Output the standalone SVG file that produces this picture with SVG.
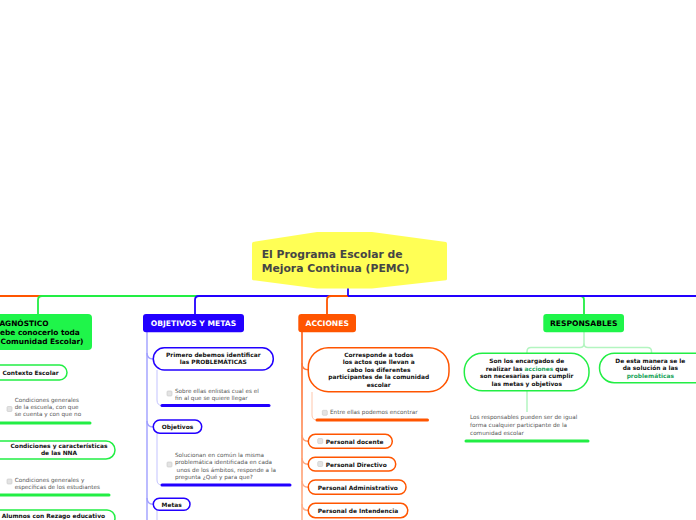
<svg xmlns="http://www.w3.org/2000/svg" width="696" height="520" viewBox="0 0 696 520">
<defs>
<style>
text{font-family:"DejaVu Sans",Verdana,"Liberation Sans",sans-serif}
.title{font-size:10.8px;font-weight:bold;fill:#454545}
.hd{font-size:7.6px;font-weight:bold;fill:#fff;text-anchor:middle}
.hdk{font-size:7.6px;font-weight:bold;fill:#000;text-anchor:middle}
.big{font-size:7.4px;font-weight:bold;fill:#000}
.nb{font-size:5.9px;font-weight:bold;fill:#111}
.c{text-anchor:middle}
.ds{font-size:5.7px;fill:#555}
.hl{fill:#19a45a}
.cb{fill:#e3e3e3;stroke:#c8c8c8;stroke-width:0.6}
.ln{fill:none;stroke-width:1.8}
.ul{fill:none;stroke-width:3;stroke-linecap:round}
.nG{fill:#fff;stroke:#22ee44;stroke-width:1.5}
.nB{fill:#fff;stroke:#2200ff;stroke-width:1.5}
.nO{fill:#fff;stroke:#ff5500;stroke-width:1.5}
</style>
<linearGradient id="og" gradientUnits="userSpaceOnUse" x1="0" y1="332" x2="0" y2="520">
<stop offset="0" stop-color="#ff5a10"/><stop offset="1" stop-color="#ffb896"/>
</linearGradient>
</defs>
<rect width="696" height="520" fill="#fff"/>

<g id="connectors">
<path class="ln" stroke="#ff5500" d="M348,296 H-2"/>
<path class="ln" stroke="#22ee44" d="M348,296 H580 Q584,296 584,300 V314"/>
<path class="ln" stroke="#22ee44" d="M348,296 H42 Q38,296 38,300 V314"/>
<path class="ln" stroke="#2200ff" d="M348,296 H199 Q195,296 195,300 V314"/>
<path class="ln" stroke="#2200ff" d="M348,296 H698"/>
<path class="ln" stroke="#ff5500" d="M348,296 H331 Q327,296 327,300 V314"/>
<path class="ln" stroke="#2200ff" d="M348,287 V296"/>

<g fill="none" stroke="#9f9fff" stroke-width="1.4">
<path d="M147,332 V521"/>
<path d="M147,353 Q147,359 153.3,359"/>
<path d="M147,421 Q147,427 153.3,427"/>
<path d="M147,498 Q147,504.2 153.3,504.2"/>
</g>
<g fill="none" stroke="#c3c3ff" stroke-width="1">
<path d="M157,370 V400 Q157,405.5 162,405.5"/>
<path d="M157,433.3 V480 Q157,485 162,485"/>
<path d="M157,510 V521"/>
</g>

<g fill="none" stroke="url(#og)" stroke-width="1.6">
<path d="M302,332 V521"/>
</g>
<g fill="none" stroke-width="1.4">
<path stroke="#ff7a3d" d="M302,363 Q302,369.7 308.3,369.7"/>
<path stroke="#ff9b6d" d="M302,435 Q302,441.3 308.3,441.3"/>
<path stroke="#ffa27a" d="M302,458 Q302,464.2 308.3,464.2"/>
<path stroke="#ffaa85" d="M302,481 Q302,487.2 308.3,487.2"/>
<path stroke="#ffb08d" d="M302,504 Q302,510.5 308.3,510.5"/>
<path stroke="#ffc6ab" stroke-width="1" d="M312,392 V415 Q312,420 317,420"/>
</g>

<g fill="none" stroke="#b3f5c0" stroke-width="1.5">
<path d="M584,332 V343.5 Q584,347.5 580,347.5 H531 Q527,347.5 527,351.5 V353.3"/>
<path d="M584,343.5 Q584,347.5 588,347.5 H647.5 Q651.5,347.5 651.5,351.5 V353.3"/>
<path d="M527,391 V412"/>
</g>

<path class="ul" stroke="#22ee44" d="M-2,423 H90"/>
<path class="ul" stroke="#22ee44" d="M-2,495 H109"/>
<path class="ul" stroke="#2200ff" d="M162,405.5 H269"/>
<path class="ul" stroke="#2200ff" d="M162,485 H290"/>
<path class="ul" stroke="#ff5500" d="M317,420 H427.5"/>
<path class="ul" stroke="#22ee44" d="M466,441 H588"/>
</g>

<g id="center">
<path d="M317,232 L372,232 L446,242 Q447,242.5 447,244 L447,279 Q447,280 446,280.2 L372,288.5 L317,288.5 L253,280.2 Q252,280 252,279 L252,244 Q252,242.5 253,242 Z" fill="#ffff55"/>
<text class="title" x="261.7" y="258.3">El Programa Escolar de</text>
<text class="title" x="261.7" y="271.7">Mejora Continua (PEMC)</text>
</g>

<g id="diagnostico">
<rect x="-20" y="314" width="112" height="36" rx="4" fill="#1ff54a"/>
<text class="big" x="-9.5" y="326">DIAGNÓSTICO</text>
<text class="big" x="-9.5" y="335">(Debe conocerlo toda</text>
<text class="big" x="-9.5" y="344">la Comunidad Escolar)</text>
</g>
<g id="contexto">
<rect class="nG" x="-20" y="365" width="87" height="15" rx="7.5"/>
<text class="nb" x="2.5" y="375">Contexto Escolar</text>
</g>
<g id="desc-contexto">
<rect class="cb" x="7" y="406.5" width="5" height="5" rx="1"/>
<text class="ds" x="14.7" y="401.7">Condiciones generales</text>
<text class="ds" x="14.7" y="409">de la escuela, con que</text>
<text class="ds" x="14.7" y="416.3">se cuenta y con que no</text>
</g>
<g id="condiciones">
<rect class="nG" x="-20" y="441" width="135" height="18" rx="9"/>
<text class="nb c" x="59" y="448">Condiciones y características</text>
<text class="nb c" x="59" y="455">de las NNA</text>
</g>
<g id="desc-condiciones">
<rect class="cb" x="7" y="479" width="5" height="5" rx="1"/>
<text class="ds" x="14.7" y="481.5">Condiciones generales y</text>
<text class="ds" x="14.7" y="489.3">específicas de los estudiantes</text>
</g>
<g id="alumnos">
<rect class="nG" x="-20" y="510" width="135" height="16" rx="8"/>
<text class="nb" x="1.7" y="518">Alumnos con Rezago educativo</text>
</g>

<g id="objetivos-metas">
<rect x="143" y="314" width="101" height="18.3" rx="3" fill="#2200ff"/>
<text class="hd" x="193.5" y="326">OBJETIVOS Y METAS</text>
</g>
<g id="primero">
<rect class="nB" x="153.3" y="347.7" width="120" height="22.3" rx="11"/>
<text class="nb c" x="213.3" y="356.6">Primero debemos identificar</text>
<text class="nb c" x="213.3" y="364.3">las PROBLEMÁTICAS</text>
</g>
<g id="desc-primero">
<rect class="cb" x="167" y="391" width="5" height="5" rx="1"/>
<text class="ds" x="175" y="392.7">Sobre ellas enlistas cual es el</text>
<text class="ds" x="175" y="400">fin al que se quiere llegar</text>
</g>
<g id="objetivos">
<rect class="nB" x="153.3" y="420" width="48.4" height="13.3" rx="6.6"/>
<text class="nb c" x="177.5" y="428.8">Objetivos</text>
</g>
<g id="desc-objetivos">
<rect class="cb" x="167" y="462" width="5" height="5" rx="1"/>
<text class="ds" x="175" y="456.5">Solucionan en común la misma</text>
<text class="ds" x="175" y="464">problemática identificada en cada</text>
<text class="ds" x="176.6" y="471.6">unos de los ámbitos, responde a la</text>
<text class="ds" x="175" y="479">pregunta ¿Qué y para que?</text>
</g>
<g id="metas">
<rect class="nB" x="153.3" y="498.3" width="36.7" height="12" rx="6"/>
<text class="nb c" x="171.7" y="506.8">Metas</text>
</g>

<g id="acciones">
<rect x="298.3" y="314" width="57.7" height="18.3" rx="3" fill="#ff5500"/>
<text class="hd" x="327.2" y="326">ACCIONES</text>
</g>
<g id="corresponde">
<rect class="nO" x="308.3" y="347.7" width="140.7" height="44" rx="20"/>
<text class="nb c" x="378.7" y="356.7">Corresponde a todos</text>
<text class="nb c" x="378.7" y="364.2">los actos que llevan a</text>
<text class="nb c" x="378.7" y="371.7">cabo los diferentes</text>
<text class="nb c" x="378.7" y="379.2">participantes de la comunidad</text>
<text class="nb c" x="378.7" y="386.7">escolar</text>
</g>
<g id="desc-corresponde">
<rect class="cb" x="322.3" y="410.3" width="5" height="5" rx="1"/>
<text class="ds" x="330" y="414.2">Entre ellas podemos encontrar</text>
</g>
<g id="docente">
<rect class="nO" x="308.3" y="434.3" width="84" height="14" rx="7"/>
<rect class="cb" x="317.7" y="438.6" width="5" height="5" rx="1"/>
<text class="nb" x="325.7" y="443.7">Personal docente</text>
</g>
<g id="directivo">
<rect class="nO" x="308.3" y="457.3" width="87.4" height="13.7" rx="6.8"/>
<rect class="cb" x="317.7" y="461.5" width="5" height="5" rx="1"/>
<text class="nb" x="325.7" y="466.6">Personal Directivo</text>
</g>
<g id="administrativo">
<rect class="nO" x="308.3" y="480" width="97.7" height="14.3" rx="7"/>
<text class="nb" x="317.7" y="489.6">Personal Administrativo</text>
</g>
<g id="intendencia">
<rect class="nO" x="308.3" y="503.3" width="99.4" height="14.4" rx="7"/>
<text class="nb" x="317.7" y="512.9">Personal de Intendencia</text>
</g>

<g id="responsables">
<rect x="543.3" y="314" width="80.7" height="18.3" rx="3" fill="#1ff54a"/>
<text class="hdk" x="583.7" y="326">RESPONSABLES</text>
</g>
<g id="son">
<rect class="nG" x="464.3" y="353.3" width="124.7" height="37.4" rx="18"/>
<text class="nb c" x="526.7" y="363.1">Son los encargados de</text>
<text class="nb c" x="526.7" y="370.7">realizar las <tspan class="hl">acciones</tspan> que</text>
<text class="nb c" x="526.7" y="378.3">son necesarias para cumplir</text>
<text class="nb c" x="526.7" y="385.8">las metas y objetivos</text>
</g>
<g id="desc-son">
<text class="ds" x="470" y="419.3">Los responsables pueden ser de igual</text>
<text class="ds" x="470" y="427.1">forma cualquier participante de la</text>
<text class="ds" x="470" y="434.7">comunidad escolar</text>
</g>
<g id="de-esta">
<rect class="nG" x="599.5" y="353.3" width="120" height="29.4" rx="14.7"/>
<text class="nb c" x="650.3" y="362.6">De esta manera se le</text>
<text class="nb c" x="650.3" y="370.1">da solución a las</text>
<text class="nb c hl" x="650.3" y="377.6">problemáticas</text>
</g>
</svg>
